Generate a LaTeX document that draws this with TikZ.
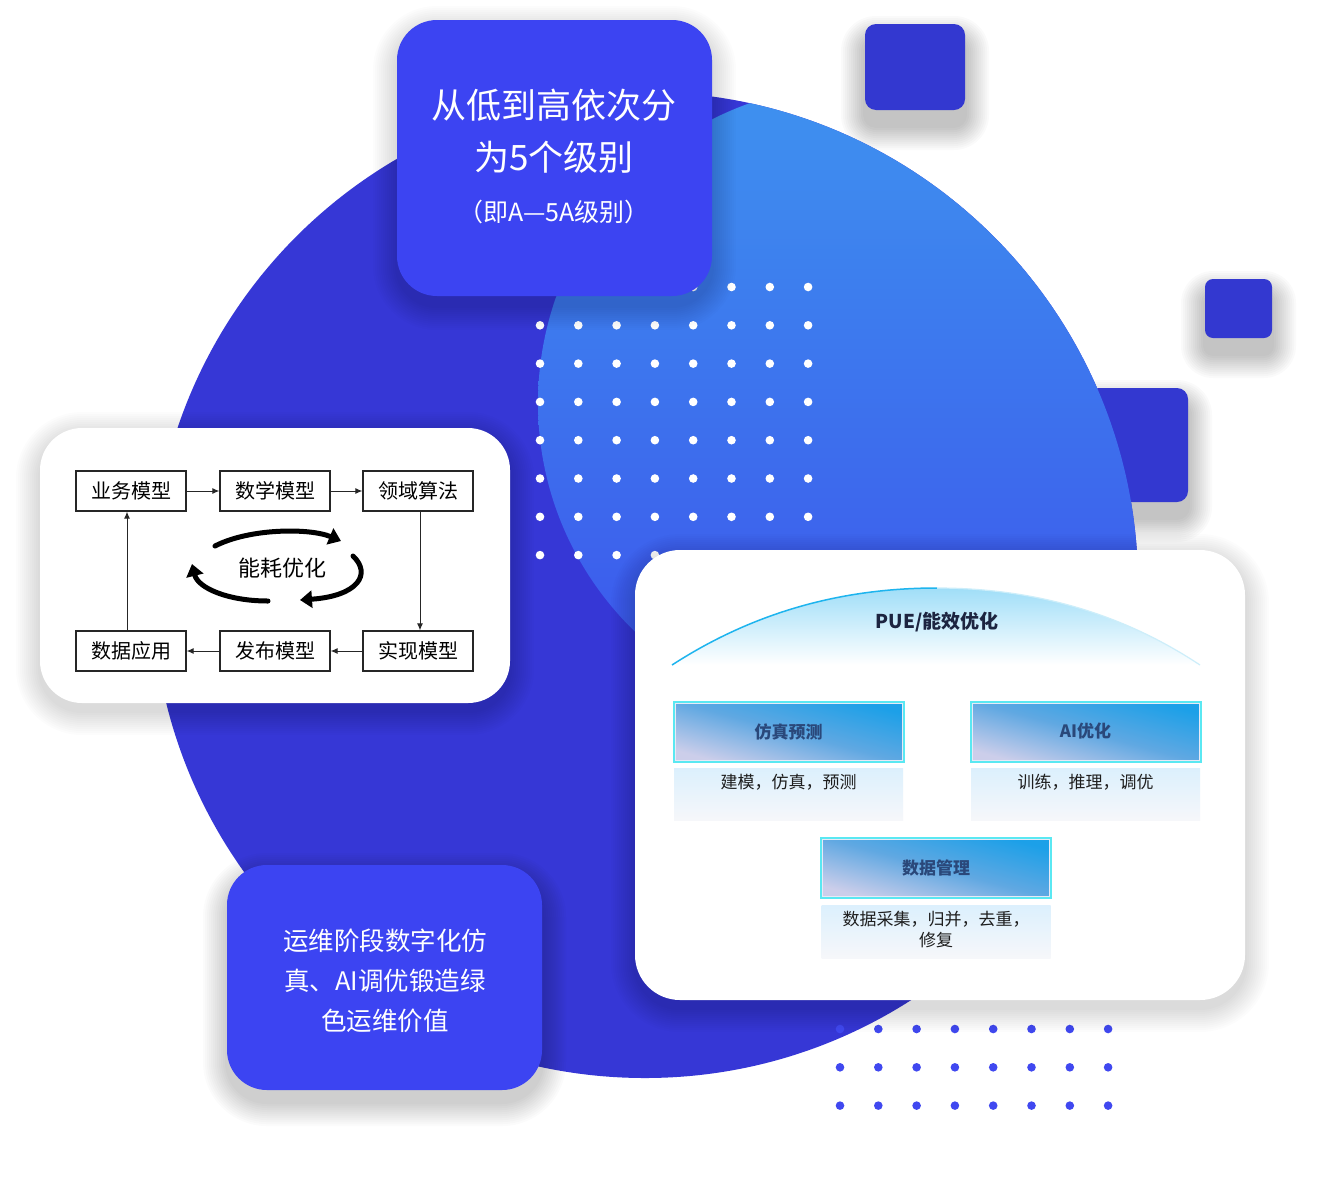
\documentclass[tikz,border=0pt]{standalone}
\usepackage{fontspec}
\setmainfont{Noto Sans CJK SC}
\usetikzlibrary{arrows.meta}
\definecolor{circdark}{RGB}{54,55,214}
\definecolor{sqblue}{RGB}{51,56,208}
\definecolor{boxblue}{RGB}{60,68,242}
\definecolor{dotblue}{RGB}{64,72,240}
\definecolor{lighttop}{RGB}{62,146,239}
\definecolor{lightbot}{RGB}{60,82,236}
\definecolor{domec}{RGB}{160,222,248}
\definecolor{domeline}{RGB}{30,180,238}
\definecolor{domelight}{RGB}{205,238,250}
\definecolor{tileblue}{RGB}{28,160,232}
\definecolor{tilemid}{RGB}{96,168,226}
\definecolor{tilelav}{RGB}{204,206,234}
\definecolor{tileedge}{RGB}{90,232,242}
\definecolor{tiletext}{RGB}{42,72,122}
\definecolor{paneltop}{RGB}{220,240,253}
\definecolor{panelbot}{RGB}{246,247,250}
\definecolor{pantext}{RGB}{30,30,30}
\definecolor{titletext}{RGB}{28,36,64}
\newcommand\dropshadow[7]{% cx cy w h radius yoffset opacity-per-layer
  \foreach \k in {1,...,12}{
    \pgfmathsetmacro\ex{\k*2}
    \pgfmathsetmacro\rr{#5+\ex}
    \fill[black, opacity=#7, rounded corners=\rr pt] (#1-#3/2-\ex, #2-#4/2-\ex+#6) rectangle (#1+#3/2+\ex, #2+#4/2+\ex+#6);
  }}
\tikzset{
  sqstyle/.style={fill=sqblue, rounded corners=11pt, inner sep=0pt},
  bluebox/.style={fill=boxblue, rounded corners=40pt, inner sep=0pt},
  whitecard/.style={fill=white, rounded corners=42pt, inner sep=0pt},
  flowbox/.style={draw=black!85, line width=1.3pt, fill=white, minimum width=110pt, minimum height=40pt, inner sep=0pt, font=\fontsize{20}{20}\selectfont},
  flowarrow/.style={draw=black!85, line width=1pt, -{Latex[length=7pt,width=6pt]}},
  cyclearrow/.style={draw=black, line width=5pt, line cap=round, -{Triangle[length=12pt,width=17pt]}},
  tile/.style={left color=tilelav, right color=tileblue, middle color=tilemid, shading angle=165, draw=tileedge, line width=3pt, minimum width=229pt, minimum height=59pt, inner sep=0pt},
  panel/.style={top color=paneltop, bottom color=panelbot, minimum width=229pt, inner sep=0pt},
  tiletitle/.style={text=tiletext, font=\bfseries\fontsize{17}{17}\selectfont},
  paneltext/.style={text=pantext, font=\fontsize{17}{21}\selectfont, align=center},
  whitetext/.style={text=white, align=center},
}
\begin{document}
\begin{tikzpicture}[x=1pt,y=-1pt]
\useasboundingbox (0,0) rectangle (1332,1192);
\fill[white] (0,0) rectangle (1332,1192);
% decorative squares with shadows
\dropshadow{915}{67}{100}{86}{11}{16}{0.02}
\dropshadow{1238.5}{308.5}{67}{59}{8}{16}{0.02}
\dropshadow{1138}{445}{100}{114}{11}{16}{0.02}
\node[sqstyle, minimum width=100pt, minimum height=86pt] (sqA) at (915,67) {};
\node[sqstyle, minimum width=67pt, minimum height=59pt, rounded corners=8pt] (sqB) at (1238.5,308.5) {};
\node[sqstyle, minimum width=100pt, minimum height=114pt] (sqC) at (1138,445) {};
% big circle and light circle
\fill[circdark] (645,585) circle (493);
\begin{scope}
\clip (645,585) circle (493);
\shade[top color=lighttop, bottom color=lightbot] (856,403) circle (318);
\end{scope}
% white dots
\foreach \i in {0,...,7}
  \foreach \j in {0,...,7}
    \fill[white] (540+38.3*\i, 287+38.3*\j) circle (4.3);
% blue dots
\foreach \i in {0,...,7}
  \foreach \j in {0,...,2}
    \fill[dotblue] (840+38.3*\i, 1029+38.3*\j) circle (4.3);
% top box
\dropshadow{554.5}{158}{315}{276}{40}{10}{0.012}
\node[bluebox, minimum width=315pt, minimum height=276pt] (topbox) at (554.5,158) {};
\node[whitetext, font=\fontsize{35}{35}\selectfont] (t1) at (554,105) {从低到高依次分};
\node[whitetext, font=\fontsize{35}{35}\selectfont] (t2) at (554,157) {为5个级别};
\node[whitetext, font=\fontsize{25}{25}\selectfont] (t3) at (554,212) {（即A—5A级别）};
% bottom box
\dropshadow{384.5}{977.5}{315}{225}{40}{12}{0.014}
\node[bluebox, minimum width=315pt, minimum height=225pt] (botbox) at (384.5,977.5) {};
\node[whitetext, font=\fontsize{25.5}{40}\selectfont] (bt) at (385,981) {运维阶段数字化仿\\真、AI调优锻造绿\\色运维价值};
% left card
\dropshadow{275}{565.5}{470}{275}{42}{8}{0.012}
\node[whitecard, minimum width=470pt, minimum height=275pt] (lcard) at (275,565.5) {};
\node[flowbox] (yw) at (131,491) {业务模型};
\node[flowbox] (sx) at (275,491) {数学模型};
\node[flowbox] (ly) at (418,491) {领域算法};
\node[flowbox] (sj) at (131,651) {数据应用};
\node[flowbox] (fb) at (275,651) {发布模型};
\node[flowbox] (sxm) at (418,651) {实现模型};
\draw[flowarrow] (yw) -- (sx);
\draw[flowarrow] (sx) -- (ly);
\draw[flowarrow] ([xshift=2pt]ly.south) -- ([xshift=2pt]sxm.north);
\draw[flowarrow] (sxm) -- (fb);
\draw[flowarrow] (fb) -- (sj);
\draw[flowarrow] ([xshift=-4pt]sj.north) -- ([xshift=-4pt]yw.south);
\node[font=\fontsize{22}{22}\selectfont] (nh) at (282,568) {能耗优化};
\draw[cyclearrow] (215,546) .. controls (250,528) and (310,528) .. (341,541);
\draw[cyclearrow] (353,556) .. controls (372,574) and (358,596) .. (300,600);
\draw[cyclearrow] (268,601) .. controls (228,601) and (198,588) .. (192,564);
% right card
\dropshadow{940}{775}{610}{450}{45}{8}{0.012}
\node[whitecard, minimum width=610pt, minimum height=450pt, rounded corners=45pt] (rcard) at (940,775) {};
\shade[top color=domec, bottom color=white] (672,665) .. controls (760,608) and (850,588) .. (937,588) .. controls (1024,588) and (1114,608) .. (1200,665) -- cycle;
\draw[domeline, line width=1.5pt] (672,665) .. controls (760,608) and (850,588) .. (937,588);
\draw[domelight, line width=1.2pt] (937,588) .. controls (1024,588) and (1114,608) .. (1200,665);
\node[text=titletext, font=\bfseries\fontsize{19}{19}\selectfont] (pue) at (937,622) {PUE/能效优化};
% tiles
\node[tile] (fz) at (788.5,731.5) {};
\node[tile] (ai) at (1085.5,731.5) {};
\node[tile] (sg) at (936,867.5) {};
\foreach \n in {fz,ai,sg}
  \draw[white!55!tilelav, line width=1pt] ([shift={(2.5pt,-2.5pt)}]\n.north west) rectangle ([shift={(-2.5pt,2.5pt)}]\n.south east);
\node[tiletitle] (fzt) at (fz) {仿真预测};
\node[tiletitle] (ait) at (ai) {AI优化};
\node[tiletitle] (sgt) at (sg) {数据管理};
\node[panel, minimum height=52pt] (fzp) at (788.5,794) {};
\node[panel, minimum height=52pt] (aip) at (1085.5,794) {};
\node[panel, minimum height=53pt] (sgp) at (936,931.5) {};
\node[paneltext] (fzpt) at (788.5,782) {建模，仿真，预测};
\node[paneltext] (aipt) at (1085.5,782) {训练，推理，调优};
\node[paneltext] (sgpt) at (936,929.5) {数据采集，归并，去重，\\修复};
\end{tikzpicture}
\end{document}
